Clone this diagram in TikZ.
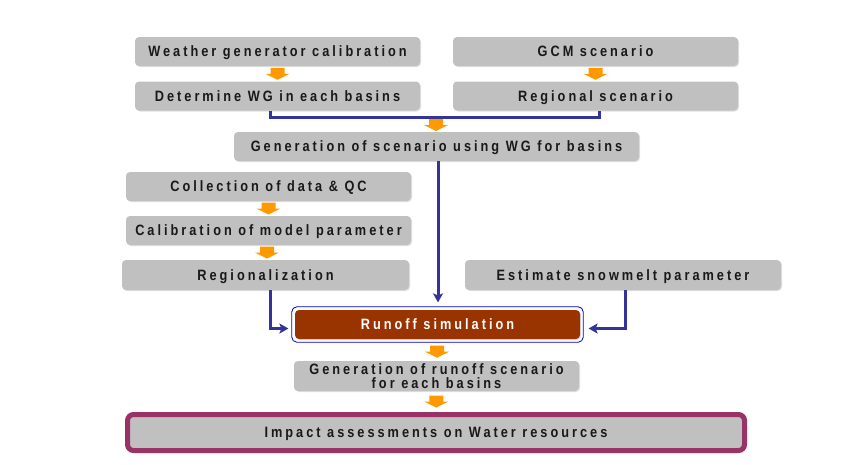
\documentclass[tikz,border=0pt]{standalone}
\usepackage{fontspec}
\newfontfamily\boxfont[LetterSpace=20,FakeStretch=0.85]{Liberation Sans}
\usetikzlibrary{arrows.meta,fit,shadows,calc}

\definecolor{boxgray}{RGB}{192,192,192}
\definecolor{runbrown}{RGB}{153,51,0}
\definecolor{linkblue}{RGB}{51,51,153}
\definecolor{framepurple}{RGB}{153,51,102}
\definecolor{stepgold}{RGB}{255,153,0}

\tikzset{
	task/.style={fill=boxgray, rounded corners=4pt, minimum width=285pt, minimum height=29pt,
		inner sep=1pt, text height=11pt, text depth=1pt,
		font=\boxfont\bfseries\fontsize{15}{16}\selectfont, text=black!90,
		drop shadow={shadow xshift=1pt, shadow yshift=-1pt, fill=black!12, opacity=1}},
	link/.style={draw=linkblue, line width=3pt},
	linkto/.style={link, -{Stealth[length=9pt,width=10pt,inset=2pt]}},
	golddown/.pic={\fill[stepgold] (-7,-6) -- (7,-6) -- (7,0) -- (12,0) -- (0,6) -- (-12,0) -- (-7,0) -- cycle;}
}

\begin{document}
\begin{tikzpicture}[x=1pt,y=-1pt]
	\useasboundingbox (0,0) rectangle (846,464);
	\node[task] (wgcal) at (277.5,51.5) {Weather generator calibration};
	\node[task] (wgdet) at (277.5,96) {Determine WG in each basins};
	\node[task] (gcm) at (595.5,51.5) {GCM scenario};
	\node[task] (regsc) at (595.5,96) {Regional scenario};
	\node[task, minimum width=405pt] (gensc) at (436.5,146.5) {Generation of scenario using WG for basins};
	\node[task] (coll) at (268.5,186.5) {Collection of data \& QC};
	\node[task] (calib) at (268.5,230.5) {Calibration of model parameter};
	\node[task, minimum width=287pt, minimum height=30pt] (region) at (265.5,275) {Regionalization};
	\node[task, minimum width=316pt, minimum height=30pt] (snow) at (623,275) {Estimate snowmelt parameter};
	\node[task, fill=runbrown, text=white, drop shadow={fill=none}] (runoff) at (437.5,324.5) {Runoff simulation};
	\node[fit=(runoff), inner sep=3pt, draw=blue!80!black, rounded corners=5pt, line width=0.8pt] (runframe) {};
	\node[task, minimum height=30pt, align=center, inner sep=0pt, text height={}, text depth={}] (genrun) at (436.5,376) {Generation of runoff scenario\\[-2pt]for each basins};
	\node[task, minimum width=617pt, minimum height=36pt, draw=framepurple, line width=5pt,
		rounded corners=6pt, drop shadow={fill=none}] (impact) at (436,432.5) {Impact assessments on Water resources};

	% gold step arrows
	\pic at ($(wgcal.south)!0.5!(wgdet.north)$) {golddown};
	\pic at ($(gcm.south)!0.5!(regsc.north)$) {golddown};
	\pic at (436,125) {golddown};
	\pic at ($(coll.south)!0.5!(calib.north)$) {golddown};
	\pic at ($(calib.south)!0.5!(region.north)$) {golddown};
	\pic at ($(runframe.south)!0.5!(genrun.north)$) {golddown};
	\pic at ($(genrun.south)!0.5!(impact.north)$) {golddown};

	% blue links
	\coordinate (join) at (436,117);
	\draw[link] ([xshift=-7.5pt]wgdet.south) |- (join) -| ([xshift=4pt]regsc.south);
	\draw[linkto, shorten >=4pt] ([xshift=1.5pt]gensc.south) -- ([xshift=0.5pt]runframe.north);
	\draw[linkto, shorten >=3pt] ([xshift=4.5pt]region.south) |- ([yshift=-4pt]runframe.west);
	\draw[linkto, shorten >=5pt] ([xshift=2pt]snow.south) |- ([yshift=-4pt]runframe.east);
\end{tikzpicture}
\end{document}
